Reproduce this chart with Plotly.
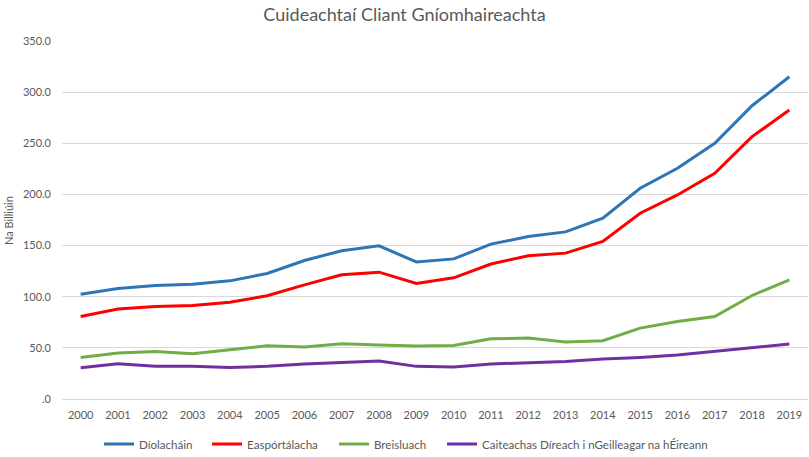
import plotly.graph_objects as go

years = [str(y) for y in range(2000, 2020)]
diolachain = [102.5, 108.0, 111.0, 112.3, 115.5, 122.7, 135.4, 145.0, 149.7, 134.0,
              137.0, 151.4, 158.8, 163.4, 176.8, 206.0, 225.6, 250.0, 286.7, 315.0]
easportalacha = [80.7, 87.9, 90.4, 91.4, 94.7, 100.9, 111.6, 121.4, 124.0, 112.9,
                 118.5, 132.0, 140.0, 142.6, 154.0, 181.6, 199.5, 220.7, 256.5, 282.5]
breisluach = [40.6, 44.9, 46.5, 44.2, 48.1, 52.0, 50.8, 54.0, 52.7, 51.8,
              52.4, 58.9, 59.6, 55.7, 57.0, 69.3, 75.8, 80.7, 101.2, 116.5]
caiteachas = [30.6, 34.5, 31.9, 31.9, 30.9, 31.9, 34.2, 35.7, 37.1, 31.9,
              31.2, 34.2, 35.1, 36.7, 39.0, 40.6, 43.0, 46.5, 49.8, 53.7]

series_names = ["Díolacháin", "Easpórtálacha", "Breisluach",
                "Caiteachas Díreach i nGeilleagar na hÉireann"]
series_values = [diolachain, easportalacha, breisluach, caiteachas]
colors = ["#2E75B6", "#FF0000", "#70AD47", "#7030A0"]

y_tickvals = [0, 50, 100, 150, 200, 250, 300, 350]
y_ticktext = [".0", "50.0", "100.0", "150.0", "200.0", "250.0", "300.0", "350.0"]

FONT = "Lato"
GREY = "#595959"
W, H = 809, 457

legend_ids = ["legend", "legend2", "legend3", "legend4"]
legend_left_px = [99, 207, 334, 442]

fig = go.Figure()
for name, vals, col, lid in zip(series_names, series_values, colors, legend_ids):
    fig.add_trace(go.Scatter(x=years, y=vals, mode="lines", name=name, legend=lid,
                             line=dict(color=col, width=3)))

layout_legends = {}
for lid, px in zip(legend_ids, legend_left_px):
    layout_legends[lid] = dict(orientation="h", xref="container", yref="container",
                               x=px / W, xanchor="left", y=(H - 444) / H, yanchor="middle",
                               font=dict(family=FONT, size=11.6, color=GREY),
                               itemwidth=30, bgcolor="rgba(0,0,0,0)")

fig.update_layout(
    width=W, height=H,
    margin=dict(l=62, r=1, t=41, b=58),
    plot_bgcolor="white", paper_bgcolor="white",
    font=dict(family=FONT, size=11, color=GREY),
    title=dict(text="Cuideachtaí Cliant Gníomhaireachta", x=0.5, xref="container",
               xanchor="center", y=1 - 15 / H, yref="container", yanchor="middle",
               font=dict(family=FONT, size=18, color=GREY)),
    showlegend=True,
    xaxis=dict(type="category", range=[-0.5, 19.5], showgrid=False, showline=True,
               linecolor="#D9D9D9", linewidth=1, ticks="",
               tickfont=dict(family=FONT, size=11, color=GREY), ticklabelstandoff=6),
    yaxis=dict(range=[0, 350], tickvals=y_tickvals, ticktext=y_ticktext,
               showgrid=True, gridcolor="#D9D9D9", gridwidth=1, zeroline=False,
               showline=False, ticks="", ticklabelstandoff=10,
               tickfont=dict(family=FONT, size=11, color=GREY)),
    annotations=[dict(text="Na Billiúin", textangle=-90, xref="paper", yref="paper",
                      x=(8 - 62) / 746, y=0.5, xanchor="center", yanchor="middle",
                      showarrow=False, font=dict(family=FONT, size=11, color=GREY))],
    **layout_legends,
)

fig.write_html("out.html")
